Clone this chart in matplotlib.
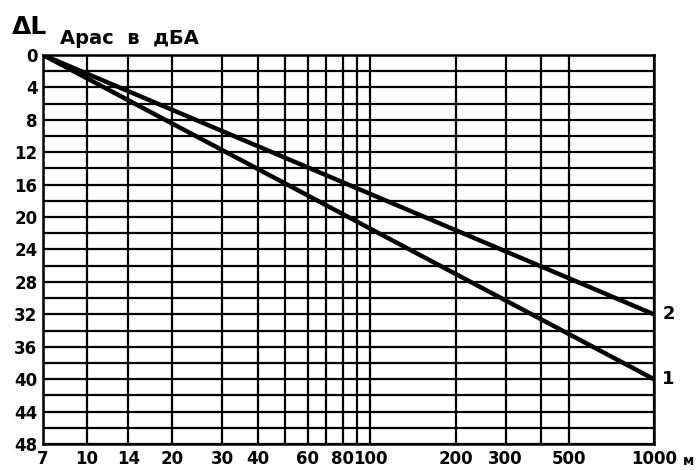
import matplotlib
matplotlib.use("Agg")
import matplotlib.pyplot as plt
import numpy as np

# Data
x_grid = [7, 10, 14, 20, 30, 40, 50, 60, 70, 80, 90, 100, 200, 300, 400, 500, 1000]
x_tick_labels = [7, 10, 14, 20, 30, 40, 60, 80, 100, 200, 300, 500, 1000]
y_ticks = list(range(0, 49, 4))
y_grid = list(range(0, 49, 2))
curve1_x = [7, 1000]
curve1_y = [0, 40]
curve2_x = [7, 1000]
curve2_y = [0, 32]

fig = plt.figure(figsize=(6.99, 4.70), dpi=100)
ax = fig.add_axes([0.0615, 0.0553, 0.874, 0.8277])
ax.set_xscale("log")
ax.set_xlim(7, 1000)
ax.set_ylim(48, 0)

for xv in x_grid:
    ax.axvline(xv, color="black", lw=1.6, zorder=1)
for yv in y_grid:
    ax.axhline(yv, color="black", lw=1.6, zorder=1)

ax.plot(curve1_x, curve1_y, color="black", lw=3.2, zorder=3, solid_capstyle="round")
ax.plot(curve2_x, curve2_y, color="black", lw=3.2, zorder=3, solid_capstyle="round")

for s in ax.spines.values():
    s.set_linewidth(1.8)

ax.set_xticks(x_tick_labels)
ax.set_xticklabels([str(v) for v in x_tick_labels])
ax.xaxis.set_minor_locator(matplotlib.ticker.NullLocator())
ax.set_yticks(y_ticks)
ax.set_yticklabels([str(v) for v in y_ticks])
ax.tick_params(axis="both", length=0, labelsize=12, pad=4)
for lab in ax.get_xticklabels() + ax.get_yticklabels():
    lab.set_fontweight("bold")

# curve labels and units
ax.text(1000 * 1.07, 32, "2", fontsize=13, fontweight="bold", va="center", ha="left", clip_on=False)
ax.text(1000 * 1.07, 40, "1", fontsize=13, fontweight="bold", va="center", ha="left", clip_on=False)
fig.text(689 / 699, 1 - 461 / 470, "м", fontsize=10, fontweight="bold", ha="center", va="center")

# title
fig.text(12 / 699, 1 - 27 / 470, "ΔL", fontsize=18, fontweight="bold", ha="left", va="center")
fig.text(60 / 699, 1 - 38 / 470, "Арас  в  дБА", fontsize=14, fontweight="bold", ha="left", va="center")

fig.savefig("out.png", dpi=100)
